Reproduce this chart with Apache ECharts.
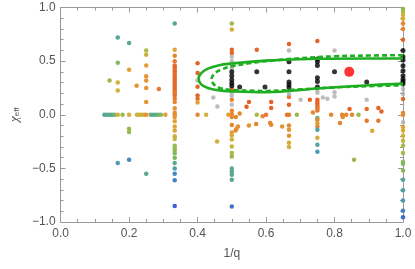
<!DOCTYPE html>
<html><head><meta charset="utf-8">
<script src="https://cdn.jsdelivr.net/npm/echarts@6/dist/echarts.min.js"></script>
<style>html,body{margin:0;padding:0;background:#fff}#c{width:415px;height:269px}</style>
</head><body><div id="c"></div>
<script>
// x tick labels / y tick labels
const xTicks = [0, 0.2, 0.4, 0.6, 0.8, 1.0];
const yTicks = [-1, -0.5, 0, 0.5, 1];
// colored points: [1/q, chi_eff, colour value 0(blue)..1(red-orange)]
const coloredPoints = [
 [0.167,0.72,0.25],[0.2,0.67,0.3],[0.25,0.60,0.5],[0.25,0.56,0.55],[0.167,0.485,0.4],[0.25,0.46,0.7],[0.2,0.42,0.7],
 [0.25,0.36,0.75],[0.143,0.32,0.45],[0.25,0.32,0.75],[0.167,0.30,0.6],[0.222,0.27,0.75],[0.25,0.25,0.75],[0.167,0.226,0.6],[0.25,0.12,0.75],
 [0.128,0,0.25],[0.136,0,0.28],[0.144,0,0.3],[0.150,0,0.3],[0.157,0,0.35],[0.167,0,0.6],[0.181,0,0.45],[0.2,0,0.6],[0.223,0,0.55],
 [0.229,0,0.6],[0.236,0,0.55],[0.244,0,0.65],[0.25,0,0.75],[0.263,0,0.35],[0.27,0,0.3],[0.278,0,0.3],[0.286,0,0.35],[0.293,0,0.4],[0.306,0,0.7],
 [0.2,-0.13,0.45],[0.2,-0.16,0.45],[0.167,-0.45,0.15],[0.2,-0.42,0.1],[0.25,-0.55,0.3],[0.287,0.24,0.85],
 [0.3333,0.85,0.25],[0.3333,0.606,0.7],[0.3333,0.55,0.8],[0.3333,0.50,0.85],[0.3333,0.46,0.9],[0.3333,0.44,0.95],[0.3333,0.42,0.9],
 [0.3333,0.40,0.95],[0.3333,0.38,0.9],[0.3333,0.36,0.95],[0.3333,0.34,0.9],[0.3333,0.32,0.95],[0.3333,0.30,0.9],[0.3333,0.28,0.95],
 [0.3333,0.26,0.9],[0.3333,0.24,0.95],[0.3333,0.22,0.9],[0.3333,0.20,0.85],[0.3333,0.18,0.9],[0.3333,0.15,0.85],[0.3333,0.12,0.8],
 [0.3333,0.06,0.75],[0.3333,0.02,0.75],[0.3333,0,0.8],[0.3333,-0.02,0.75],[0.3333,-0.06,0.7],[0.3333,-0.11,0.65],[0.3333,-0.146,0.65],
 [0.3333,-0.2,0.62],[0.3333,-0.227,0.55],[0.3333,-0.29,0.45],[0.3333,-0.31,0.45],[0.3333,-0.33,0.42],[0.3333,-0.36,0.4],[0.3333,-0.40,0.38],
 [0.3333,-0.45,0.3],[0.3333,-0.5,0.22],[0.3333,-0.55,0.1],[0.3333,-0.61,0.08],[0.3333,-0.85,0.0],
 [0.4,0.48,0.95],[0.4,0.39,0.95],[0.4,0.26,0.95],[0.4,0.18,0.95],[0.4,0.15,0.9],[0.4,0.115,0.7],[0.4,0,0.8],[0.425,0,0.6],
 [0.5,0.85,0.45],[0.5,0.795,0.6],[0.5,0.606,0.95],[0.5,0.575,0.95],[0.5,0.24,0.95],[0.5,0.14,0.8],[0.5,0.037,0.8],[0.5,0.006,0.8],
 [0.5,-0.02,0.8],[0.5,-0.096,0.8],[0.5,-0.165,0.7],[0.5,-0.19,0.65],[0.5,-0.23,0.6],[0.5,-0.295,0.55],[0.5,-0.357,0.5],[0.5,-0.39,0.45],
 [0.5,-0.5,0.3],[0.5,-0.53,0.3],[0.5,-0.56,0.28],[0.5,-0.606,0.28],[0.5,-0.855,0.05],
 [0.49,0,0.7],[0.457,-0.25,0.6],[0.573,0.606,0.95],[0.55,0.118,0.98],[0.543,0.075,0.98],[0.523,0.012,0.8],[0.512,-0.02,0.8],
 [0.518,-0.11,0.75],[0.514,-0.13,0.75],[0.55,-0.1,0.75],[0.571,-0.087,0.8],[0.573,0,0.5],[0.59,-0.015,0.8],[0.511,-0.146,0.8],
 [0.615,0.118,0.95],[0.615,0.062,0.95],[0.612,-0.078,0.8],[0.615,-0.093,0.8],[0.6,0,0.85],[0.647,-0.11,0.75],[0.69,0,0.45],[0.728,0.14,0.95],
 [0.667,0.66,0.95],[0.667,0.165,0.85],[0.667,0.093,0.95],[0.667,0,0.85],[0.661,0,0.85],[0.667,-0.1,0.8],[0.667,-0.14,0.75],
 [0.667,-0.196,0.75],[0.667,-0.26,0.65],[0.667,-0.30,0.6],
 [0.75,0.687,0.95],[0.75,0.14,0.95],[0.75,0.12,0.95],[0.75,0.10,0.95],[0.75,0.08,0.9],[0.75,0.06,0.85],[0.75,0.04,0.85],[0.75,-0.03,0.35],
 [0.75,-0.05,0.8],[0.75,-0.08,0.7],[0.75,-0.11,0.8],[0.75,-0.14,0.2],[0.75,-0.215,0.62],[0.75,-0.28,0.25],[0.75,-0.345,0.15],
 [0.737,0.02,0.8],[0.79,0,0.8],
 [0.844,0.053,0.95],[0.834,0,0.8],[0.822,0,0.8],[0.824,-0.02,0.8],[0.816,-0.078,0.8],[0.851,0,0.8],[0.87,0,0.45],[0.894,0.053,0.9],
 [0.894,-0.056,0.85],[0.928,0.062,0.95],[0.937,0.031,0.95],[0.928,-0.056,0.85],[0.91,-0.15,0.65],[0.857,-0.42,0.45],
 [1,0.985,0.4],[1,0.96,0.5],[1,0.93,0.6],[1,0.895,0.65],[1,0.85,0.8],[1,0.8,0.8],[1,0.70,0.95],[1,0.146,0.95],[1,0.016,0.8],[1,0,0.8],
 [1,-0.115,0.7],[1,-0.146,0.65],[1,-0.196,0.6],[1,-0.242,0.55],[1,-0.29,0.5],[1,-0.357,0.5],[1,-0.44,0.42],[1,-0.457,0.4],[1,-0.52,0.4],
 [1,-0.606,0.25],[1,-0.705,0.22],[1,-0.80,0.15],[1,-0.895,0.08],[1,-0.955,0.02]
];
const grayPoints = [
 [0.4,0.32],[0.446,0.16],[0.458,0.077],[0.5,0.54],[0.5,0.5],[0.5,0.466],[0.5,0.43],[0.5,0.208],[0.5,0.177],[0.5,0.093],
 [0.667,0.6],[0.667,0.19],[0.701,0.14],[0.75,0.233],[0.75,0.205],[0.766,0.16],[0.779,0.15],[0.8,0.6],[0.8,0.17],[0.8,0.21],
 [0.894,0.14],[1,0.24],[1,0.196],[1,-0.07]
];
const blackPoints = [
 [0.5,0.40],[0.5,0.363],[0.5,0.326],[0.5,0.295],[0.5,0.27],[0.523,0.258],[0.573,0.40],[0.597,0.258],
 [0.667,0.494],[0.667,0.40],[0.667,0.305],[0.667,0.28],[0.667,0.254],
 [0.75,0.52],[0.75,0.494],[0.75,0.46],[0.75,0.345],[0.75,0.31],[0.75,0.258],[0.8,0.4],[0.894,0.305],
 [1,0.6],[1,0.54],[1,0.51],[1,0.456],[1,0.41],[1,0.363],[1,0.33],[1,0.31],[1,0.29]
];
const redPoint = [[0.843,0.4]];
const solidContour = [
 [1.0,0.525],[0.9,0.525],[0.75,0.522],[0.6,0.505],[0.5,0.478],[0.46,0.46],[0.43,0.43],[0.413,0.395],[0.403,0.34],
 [0.41,0.285],[0.43,0.25],[0.46,0.228],[0.5,0.218],[0.6,0.21],[0.75,0.245],[0.9,0.275],[1.0,0.29]
];
const dashedContour = [
 [1.0,0.555],[0.9,0.552],[0.8,0.545],[0.7,0.527],[0.6,0.5],[0.55,0.48],[0.5,0.452],[0.47,0.422],[0.452,0.39],[0.441,0.335],
 [0.446,0.29],[0.46,0.255],[0.5,0.232],[0.55,0.225],[0.6,0.222],[0.7,0.237],[0.8,0.255],[0.9,0.266],[1.0,0.275]
];

const gray = '#999';
const labelColor = '#555';
function fmt(v){ return (Math.round(v*10)/10).toFixed(1).replace('-', '\u2212'); }
function axisBase(extra){
  return Object.assign({
    type:'value', axisLine:{show:true, onZero:false, lineStyle:{color:gray, width:1}},
    axisTick:{show:true, inside:true, length:5, lineStyle:{color:gray}},
    splitLine:{show:false},
  }, extra);
}
const chart = echarts.init(document.getElementById('c'), null, {renderer:'canvas'});
chart.setOption({
  animation:false,
  grid:{left:57, right:12, top:7.5, bottom:47},
  visualMap:{show:false, type:'continuous', min:0, max:1, dimension:2, seriesIndex:0,
    inRange:{color:['#3a62cc','#4a98b8','#56a98e','#8fbb52','#cdb43b','#e49e35','#e6772f','#e35a28']}},
  xAxis:[
    axisBase({min:xTicks[0], max:xTicks[xTicks.length-1], interval:0.2, position:'bottom',
      minorTick:{show:true, splitNumber:4, length:3, lineStyle:{color:gray}},
      axisLabel:{color:labelColor, fontSize:12, fontFamily:'Liberation Sans', margin:6, formatter:fmt},
      name:'1/q', nameLocation:'middle', nameGap:26, nameTextStyle:{color:labelColor, fontSize:12, fontFamily:'Liberation Sans'}}),
    axisBase({min:xTicks[0], max:xTicks[xTicks.length-1], interval:0.2, position:'top',
      minorTick:{show:true, splitNumber:4, length:3, lineStyle:{color:gray}}, axisLabel:{show:false}})
  ],
  yAxis:[
    axisBase({min:yTicks[0], max:yTicks[yTicks.length-1], interval:0.5, position:'left',
      minorTick:{show:true, splitNumber:5, length:3, lineStyle:{color:gray}},
      axisLabel:{color:labelColor, fontSize:12, fontFamily:'Liberation Sans', margin:5, formatter:fmt},
      name:'{a|\u03c7}{b|eff}', nameLocation:'middle', nameGap:36, nameRotate:90,
      nameTextStyle:{color:labelColor, rich:{a:{fontSize:13, fontStyle:'italic', fontFamily:'Liberation Serif', color:labelColor}, b:{fontSize:8, fontFamily:'Liberation Sans', color:labelColor, padding:[5,0,0,0]}}}}),
    axisBase({min:yTicks[0], max:yTicks[yTicks.length-1], interval:0.5, position:'right',
      minorTick:{show:true, splitNumber:5, length:3, lineStyle:{color:gray}}, axisLabel:{show:false}})
  ],
  series:[
    {type:'scatter', data:coloredPoints, symbolSize:4.5, itemStyle:{opacity:1}, z:2},
    {type:'scatter', data:grayPoints, symbolSize:4.5, itemStyle:{color:'#adadad'}, z:3},
    {type:'scatter', data:blackPoints, symbolSize:5, itemStyle:{color:'#000'}, z:4},
    {type:'line', data:solidContour, smooth:0.4, showSymbol:false, symbol:'none', lineStyle:{color:'#1eae22', width:2.6}, z:5},
    {type:'line', data:dashedContour, smooth:0.4, showSymbol:false, symbol:'none', lineStyle:{color:'#1eae22', width:2.6, type:[5,3]}, z:5},
    {type:'scatter', data:redPoint, symbolSize:10, itemStyle:{color:'#ff0000'}, z:6}
  ]
});
</script></body></html>
